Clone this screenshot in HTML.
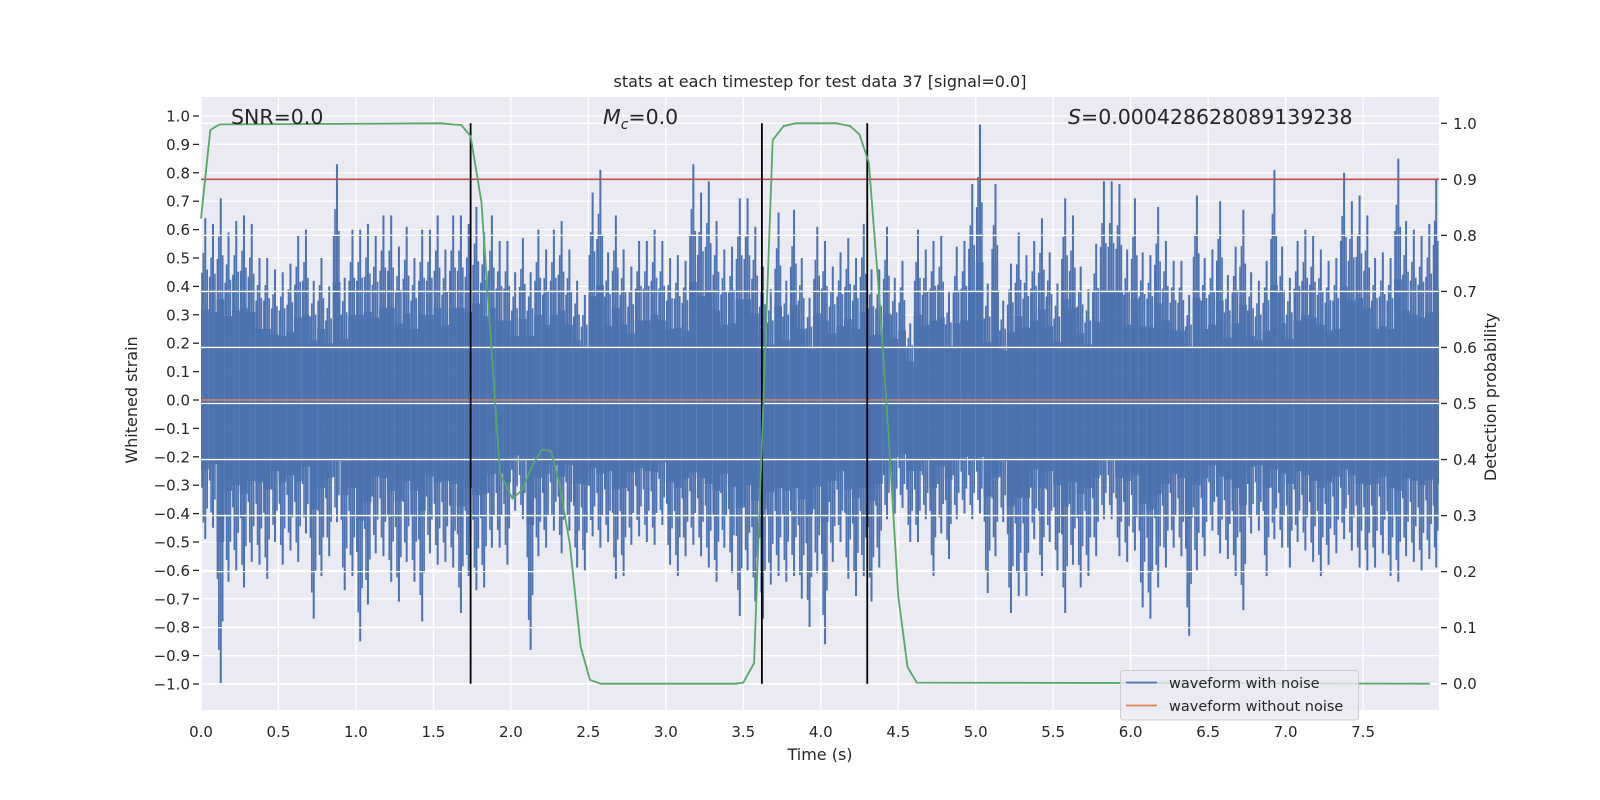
<!DOCTYPE html>
<html><head><meta charset="utf-8"><style>
html,body{margin:0;padding:0;background:#fff}
svg{display:block}
text{font-family:"DejaVu Sans","Liberation Sans",sans-serif;fill:#262626}
</style></head><body>
<svg id="chart" width="1600" height="800" viewBox="0 0 1600 800">
<rect x="201" y="97" width="1238" height="613" fill="#eaeaf2"/>
<g id="gridBack"></g>
<g id="noise"></g>
<g id="front"></g>
<g id="axes"></g>
</svg>
<script>
// ---- data ----
const binWidth = 0.05;
const noiseHi = [0.64,0.62,0.71,0.59,0.63,0.65,0.62,0.50,0.50,0.46,0.45,0.48,0.58,0.60,0.42,0.50,0.40,0.83,0.43,0.60,
0.60,0.62,0.58,0.65,0.65,0.54,0.61,0.50,0.60,0.60,0.65,0.53,0.65,0.65,0.62,0.68,0.59,0.65,0.56,0.56,
0.45,0.57,0.45,0.60,0.53,0.60,0.63,0.53,0.42,0.37,0.73,0.81,0.52,0.65,0.53,0.47,0.56,0.56,0.60,0.56,
0.50,0.51,0.49,0.83,0.73,0.77,0.63,0.53,0.54,0.71,0.71,0.61,0.47,0.39,0.66,0.42,0.67,0.50,0.36,0.61,
0.56,0.47,0.52,0.57,0.50,0.62,0.46,0.46,0.61,0.43,0.49,0.27,0.60,0.53,0.56,0.58,0.38,0.54,0.56,0.76,
0.97,0.41,0.76,0.35,0.48,0.59,0.51,0.56,0.64,0.52,0.41,0.71,0.65,0.47,0.39,0.55,0.77,0.77,0.76,0.53,
0.71,0.52,0.51,0.68,0.56,0.49,0.49,0.37,0.72,0.50,0.53,0.70,0.44,0.54,0.67,0.45,0.42,0.49,0.81,0.54,
0.43,0.56,0.60,0.58,0.53,0.49,0.50,0.80,0.70,0.72,0.65,0.50,0.52,0.50,0.85,0.63,0.60,0.58,0.62,0.78];
const noiseLo = [-0.49,-0.45,-1.0,-0.64,-0.60,-0.66,-0.57,-0.58,-0.63,-0.50,-0.58,-0.53,-0.57,-0.47,-0.77,-0.62,-0.55,-0.43,-0.67,-0.62,
-0.85,-0.72,-0.54,-0.55,-0.64,-0.71,-0.57,-0.64,-0.78,-0.54,-0.58,-0.57,-0.59,-0.75,-0.62,-0.67,-0.66,-0.52,-0.52,-0.58,
-0.39,-0.42,-0.88,-0.55,-0.52,-0.46,-0.54,-0.46,-0.59,-0.60,-0.48,-0.52,-0.50,-0.63,-0.62,-0.51,-0.48,-0.50,-0.51,-0.44,
-0.58,-0.62,-0.55,-0.51,-0.55,-0.59,-0.64,-0.52,-0.61,-0.76,-0.60,-0.71,-0.77,-0.65,-0.62,-0.64,-0.62,-0.70,-0.80,-0.61,
-0.86,-0.57,-0.50,-0.63,-0.69,-0.62,-0.71,-0.59,-0.42,-0.40,-0.38,-0.50,-0.50,-0.42,-0.62,-0.47,-0.56,-0.42,-0.40,-0.42,
-0.40,-0.68,-0.55,-0.43,-0.75,-0.69,-0.69,-0.49,-0.62,-0.50,-0.60,-0.75,-0.58,-0.66,-0.62,-0.55,-0.42,-0.42,-0.55,-0.57,
-0.53,-0.73,-0.77,-0.66,-0.59,-0.52,-0.55,-0.83,-0.60,-0.55,-0.46,-0.54,-0.56,-0.62,-0.74,-0.47,-0.46,-0.62,-0.49,-0.52,
-0.59,-0.50,-0.53,-0.57,-0.62,-0.58,-0.54,-0.49,-0.53,-0.59,-0.60,-0.59,-0.54,-0.62,-0.64,-0.55,-0.57,-0.60,-0.56,-0.59];
const probTimes = [0,0.06,0.12,1.55,1.62,1.68,1.74,1.81,1.93,2.01,2.07,2.14,2.2,2.26,2.31,2.38,2.45,2.51,2.58,3.45,3.5,3.57,3.63,3.69,3.76,3.84,4.1,4.19,4.25,4.31,4.38,4.44,4.5,4.56,4.62,7.93];
const probValues = [0.83,0.988,0.998,1.0,0.998,0.997,0.977,0.86,0.376,0.33,0.345,0.39,0.418,0.415,0.36,0.25,0.067,0.007,0.0,0.0,0.002,0.037,0.505,0.97,0.995,1.0,1.0,0.995,0.98,0.93,0.68,0.435,0.157,0.03,0.002,0.0];
const eventTimes = [1.74,3.62,4.30];
const threshold = 0.9;
const xTicks = [0,0.5,1,1.5,2,2.5,3,3.5,4,4.5,5,5.5,6,6.5,7,7.5];
const yLeftTicks = [-1,-0.9,-0.8,-0.7,-0.6,-0.5,-0.4,-0.3,-0.2,-0.1,0,0.1,0.2,0.3,0.4,0.5,0.6,0.7,0.8,0.9,1.0];
const yRightTicks = [0,0.1,0.2,0.3,0.4,0.5,0.6,0.7,0.8,0.9,1.0];

// ---- scales ----
const X0=201, X1=1439, T0=0, T1=7.99;
const sx = t => X0 + (t-T0)/(T1-T0)*(X1-X0);
const syL = v => 400 - v*284;
const syR = p => 683.7 - p*560.4;
const NS='http://www.w3.org/2000/svg';
function mk(tag, attrs, parent){const e=document.createElementNS(NS,tag);for(const k in attrs)e.setAttribute(k,attrs[k]);parent.appendChild(e);return e;}
const gb=document.getElementById('gridBack'), gn=document.getElementById('noise'), gf=document.getElementById('front'), ga=document.getElementById('axes');

xTicks.forEach(t=>{const l=mk('line',{x1:sx(t),x2:sx(t),y1:97,y2:710,stroke:'#fff','stroke-width':1.3},gb);

});
yLeftTicks.forEach(v=>{const l=mk('line',{x1:201,x2:1439,y1:syL(v),y2:syL(v),stroke:'#fff','stroke-width':1.3},gb);

});

// noise
const bw = sx(binWidth)-sx(0);
const spikeFracs = [[0.12,0.7],[0.3,0.88],[0.55,1.0],[0.8,0.78]];
noiseHi.forEach((hi,i)=>{
  const lo=noiseLo[i]; const x=sx(i*binWidth); const w=Math.min(bw, X1-x);
  if(w<=0) return;
  const r=mk('rect',{x:x,y:syL(hi*0.5),width:w,height:syL(lo*0.5)-syL(hi*0.5),fill:'#4c72b0'},gn);
  
  
  spikeFracs.forEach(([fx,fy],k)=>{
    const cx=Math.min(x+w*fx, X1-1);
    let fyHi = (k%2===0)?fy:fy*0.92, fyLo=(k%2===0)?fy*0.9:fy;
    if(k===2){fyHi=1;fyLo=1;}
    const l=mk('line',{x1:cx,x2:cx,y1:syL(hi*fyHi),y2:syL(lo*fyLo),stroke:'#4c72b0','stroke-width':k===2?2:1.6},gn);
    
    
  });
});

const o=mk('line',{x1:201,x2:1439,y1:syL(0),y2:syL(0),stroke:'#dd8452','stroke-width':1.6},gf);


yRightTicks.forEach(p=>{const l=mk('line',{x1:201,x2:1439,y1:syR(p),y2:syR(p),stroke:'#fff','stroke-width':1.3},gf);

});
const th=mk('line',{x1:201,x2:1439,y1:syR(threshold),y2:syR(threshold),stroke:'#c44e52','stroke-width':1.6},gf);


eventTimes.forEach(t=>{const l=mk('line',{x1:sx(t),x2:sx(t),y1:syR(1),y2:syR(0),stroke:'#000','stroke-width':1.8},gf);

});
const pts=probTimes.map((t,i)=>sx(t).toFixed(1)+','+syR(probValues[i]).toFixed(1)).join(' ');
const pl=mk('polyline',{points:pts,fill:'none',stroke:'#55a868','stroke-width':1.8},gf);



xTicks.forEach(t=>{const e=mk('text',{x:sx(t),y:737,'text-anchor':'middle','font-size':15},ga);e.textContent=t.toFixed(1);

});
yLeftTicks.forEach(v=>{
  const tk=mk('line',{x1:193,x2:199,y1:syL(v),y2:syL(v),stroke:'#262626','stroke-width':1.3},ga);
  
  
  const e=mk('text',{x:190,y:syL(v)+5.5,'text-anchor':'end','font-size':15},ga);
  e.textContent=(v<0?'\u2212':'')+Math.abs(v).toFixed(1);
  
  });
yRightTicks.forEach(p=>{
  const tk=mk('line',{x1:1441,x2:1447,y1:syR(p),y2:syR(p),stroke:'#262626','stroke-width':1.3},ga);
  
  
  const e=mk('text',{x:1453,y:syR(p)+5.5,'font-size':15},ga);
  e.textContent=p.toFixed(1);
  
  });
</script>
<svg style="position:absolute;left:0;top:0" width="1600" height="800">
<text x="820" y="87" text-anchor="middle" font-size="16">stats at each timestep for test data 37 [signal=0.0]</text>
<text x="231" y="124" font-size="20.5">SNR=0.0</text>
<text x="603" y="124" font-size="20.5"><tspan font-style="italic">M</tspan><tspan font-size="14" dy="5" font-style="italic">c</tspan><tspan dy="-5">=0.0</tspan></text>
<text x="1068" y="124" font-size="20.5"><tspan font-style="italic">S</tspan>=0.000428628089139238</text>
<text x="820" y="760" text-anchor="middle" font-size="16">Time (s)</text>
<text transform="translate(137,400) rotate(-90)" text-anchor="middle" font-size="16">Whitened strain</text>
<text transform="translate(1496,397) rotate(-90)" text-anchor="middle" font-size="16">Detection probability</text>
<g>
<rect x="1120.5" y="670.5" width="238" height="49.5" rx="3" fill="#eaeaf2" fill-opacity="0.8" stroke="#cccccc" stroke-width="1"/>
<line x1="1126" x2="1157" y1="682.5" y2="682.5" stroke="#4c72b0" stroke-width="1.8"/>
<text x="1169" y="688" font-size="14.5">waveform with noise</text>
<line x1="1126" x2="1157" y1="705.5" y2="705.5" stroke="#dd8452" stroke-width="1.8"/>
<text x="1169" y="711" font-size="14.5">waveform without noise</text>
</g>
</svg>
</body></html>
